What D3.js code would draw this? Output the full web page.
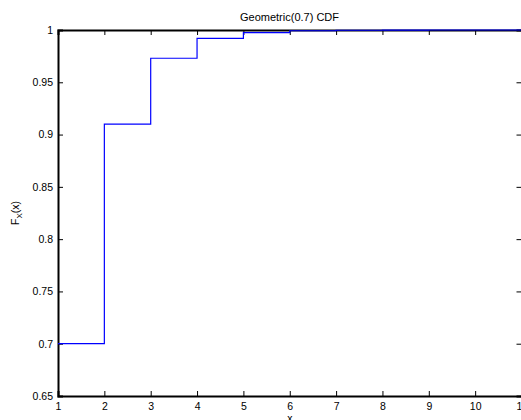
<!DOCTYPE html>
<html><head><meta charset="utf-8">
<script src="https://cdn.jsdelivr.net/npm/d3@7"></script>
<style>body{margin:0;background:#fff;overflow:hidden}svg{display:block}text{font-family:"Liberation Sans",Arial,sans-serif}</style>
</head><body><div id="c"></div>
<script>
const xs = [1,2,3,4,5,6,7,8,9,10,11];
const cdf = [0.7,0.91,0.973,0.9919,0.99757,0.999271,0.999781,0.999934,0.99998,0.999994,0.999998];
const xTicks = [1,2,3,4,5,6,7,8,9,10,11];
const yTicks = [0.65,0.7,0.75,0.8,0.85,0.9,0.95,1];
const title = "Geometric(0.7) CDF";

const W=521,H=420;
const m={l:58,t:30,r:0,b:24};
const svg=d3.select("#c").append("svg").attr("width",W).attr("height",H);
const x=d3.scaleLinear().domain([1,11]).range([m.l,521.5]);
const y=d3.scaleLinear().domain([0.65,1]).range([396,30]);

const fmt=d=>String(+d.toFixed(2));
const gb=svg.append("g").attr("transform",`translate(0,396)`).call(d3.axisBottom(x).tickValues(xTicks).tickSize(-5).tickPadding(7).tickFormat(d=>d));
const gt=svg.append("g").attr("transform",`translate(0,30)`).call(d3.axisTop(x).tickValues(xTicks).tickSize(-5).tickFormat(""));
const gl=svg.append("g").attr("transform",`translate(${m.l},0)`).call(d3.axisLeft(y).tickValues(yTicks).tickSize(-5).tickPadding(5).tickFormat(fmt));
const gr=svg.append("g").attr("transform",`translate(521.5,0)`).call(d3.axisRight(y).tickValues(yTicks).tickSize(-5).tickFormat(""));
[gb,gt,gl,gr].forEach(g=>{
  g.select(".domain").attr("stroke","#000").attr("stroke-width",2);
  g.selectAll(".tick line").attr("stroke","#000").attr("stroke-width",1);
  g.selectAll(".tick text").attr("font-size",10.5).attr("fill","#000").attr("font-family","'Liberation Sans',Arial,sans-serif");
});

const data=xs.map((v,i)=>({x:v,y:cdf[i]}));
const line=d3.line().x(d=>x(d.x)).y(d=>y(d.y)).curve(d3.curveStepAfter);
svg.append("path").datum(data).attr("d",line).attr("fill","none").attr("stroke","#0000ff").attr("stroke-width",1.2);

svg.append("text").attr("x",(m.l+521)/2).attr("y",21).attr("text-anchor","middle").attr("font-size",11).text(title);
svg.append("text").attr("x",x(6)).attr("y",422).attr("text-anchor","middle").attr("font-size",10.5).text("x");
const yl=svg.append("text").attr("transform","translate(19,213) rotate(-90)").attr("text-anchor","middle").attr("font-size",10.5);
yl.append("tspan").text("F");
yl.append("tspan").attr("font-size",8).attr("dy",3).text("X");
yl.append("tspan").attr("dy",-3).text("(x)");
</script></body></html>
